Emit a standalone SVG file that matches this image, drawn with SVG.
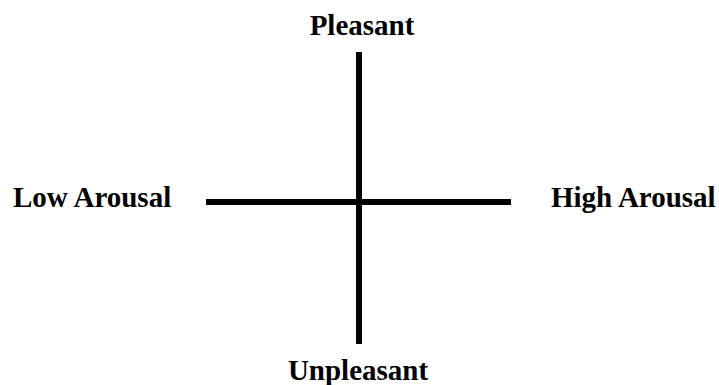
<svg xmlns="http://www.w3.org/2000/svg" width="719" height="385" viewBox="0 0 719 385">
<style>
.lbl{font-family:"Liberation Serif","Times New Roman",serif;font-weight:bold;font-size:29px;fill:#000}
.axis{stroke:#000;stroke-width:6;fill:none}
</style>
<rect width="719" height="385" fill="#fff"/>
<g id="connectors">
<line class="axis" x1="206" y1="202" x2="511" y2="202"/>
<line class="axis" x1="359" y1="52" x2="359" y2="344"/>
</g>
<g id="pleasant"><text class="lbl" x="362" y="35" text-anchor="middle">Pleasant</text></g>
<g id="unpleasant"><text class="lbl" x="358" y="380" text-anchor="middle">Unpleasant</text></g>
<g id="low-arousal"><text class="lbl" x="13" y="207">Low Arousal</text></g>
<g id="high-arousal"><text class="lbl" x="551" y="207">High Arousal</text></g>
</svg>
